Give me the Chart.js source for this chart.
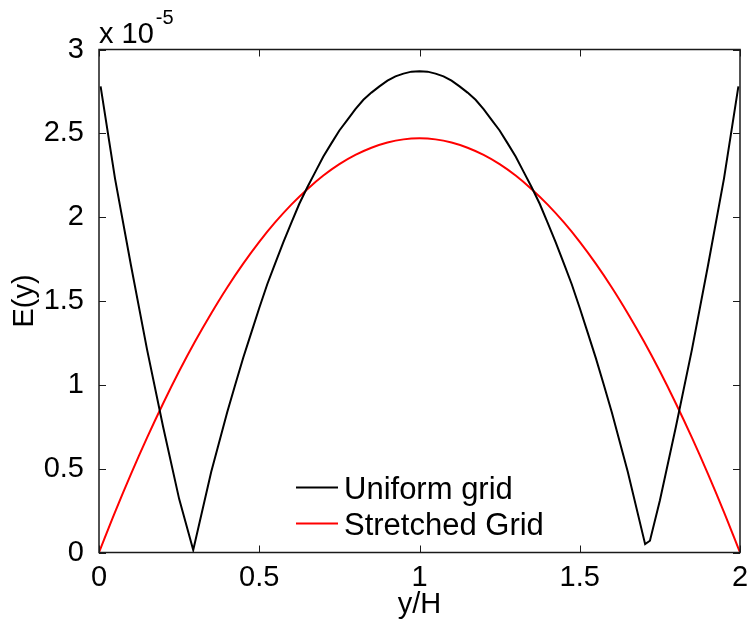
<!DOCTYPE html>
<html>
<head>
<meta charset="utf-8">
<title>E(y)</title>
<script src="https://cdn.jsdelivr.net/npm/chart.js@4/dist/chart.umd.min.js"></script>
<style>
  html, body { margin: 0; padding: 0; background: #fff; }
  #wrap { width: 747px; height: 623px; }
</style>
</head>
<body>
<div id="wrap"><canvas id="chart" width="747" height="623"></canvas></div>
<script>
// Error profile E(y), values in units of 10^-5
const uniformX = [0.005, 0.05, 0.1, 0.15, 0.2, 0.25, 0.294, 0.35,
  0.4, 0.425, 0.45, 0.475, 0.5, 0.525, 0.55, 0.575, 0.6, 0.625, 0.65, 0.675, 0.7, 0.725, 0.75, 0.775,
  0.8, 0.825, 0.85, 0.875, 0.9, 0.925, 0.95, 0.975, 1.0, 1.025, 1.05, 1.075, 1.1, 1.125, 1.15, 1.175,
  1.2, 1.225, 1.25, 1.275, 1.3, 1.325, 1.35, 1.375, 1.4, 1.425, 1.45, 1.475, 1.5, 1.525, 1.55, 1.575, 1.6,
  1.65, 1.704, 1.719, 1.75, 1.8, 1.85, 1.9, 1.95, 1.995];
const uniformE = [2.78, 2.23, 1.71, 1.21, 0.75, 0.32, 0.015, 0.48,
  0.836, 1.00, 1.161, 1.31, 1.458, 1.60, 1.726, 1.85, 1.966, 2.08, 2.178, 2.27, 2.362, 2.44, 2.517, 2.58,
  2.644, 2.70, 2.743, 2.78, 2.814, 2.84, 2.856, 2.868, 2.87, 2.868, 2.856, 2.84, 2.814, 2.78, 2.743, 2.70,
  2.644, 2.58, 2.517, 2.44, 2.362, 2.27, 2.178, 2.08, 1.966, 1.85, 1.726, 1.60, 1.458, 1.31, 1.161, 1.00, 0.836,
  0.48, 0.05, 0.07, 0.31, 0.75, 1.21, 1.71, 2.23, 2.78];

const stretchedX = [0, 0.05, 0.1, 0.15, 0.2, 0.25, 0.3, 0.35, 0.4, 0.45, 0.5, 0.55, 0.6, 0.65, 0.7, 0.75,
  0.8, 0.85, 0.9, 0.95, 1.0, 1.05, 1.1, 1.15, 1.2, 1.25, 1.3, 1.35, 1.4, 1.45, 1.5, 1.55, 1.6, 1.65, 1.7,
  1.75, 1.8, 1.85, 1.9, 1.95, 2.0];
const stretchedE = [0, 0.241, 0.469, 0.685, 0.889, 1.081, 1.260, 1.426, 1.581, 1.723, 1.853, 1.970, 2.075,
  2.167, 2.248, 2.316, 2.371, 2.414, 2.445, 2.464, 2.47, 2.464, 2.445, 2.414, 2.371, 2.316, 2.248, 2.167,
  2.075, 1.970, 1.853, 1.723, 1.581, 1.426, 1.260, 1.081, 0.889, 0.685, 0.469, 0.241, 0];

const seriesNames = ['Uniform grid', 'Stretched Grid'];
const seriesColors = ['#000000', '#ff0000'];
const xTicks = [0, 0.5, 1, 1.5, 2];
const yTicks = [0, 0.5, 1, 1.5, 2, 2.5, 3];
const yExponent = '-5';

const FONT = '"Liberation Sans", Arial, Helvetica, sans-serif';
const FS = 29;
const LEGEND_FS = 31;

const toPoints = (xs, ys) => xs.map((x, i) => ({ x: x, y: ys[i] }));

// Box around the plot with inward-pointing tick marks on all four sides
const boxPlugin = {
  id: 'box',
  afterDatasetsDraw(chart) {
    const { ctx, chartArea: a, scales } = chart;
    const tl = 7;
    ctx.save();
    ctx.strokeStyle = '#1a1a1a';
    ctx.lineWidth = 1.5;
    ctx.strokeRect(a.left, a.top, a.right - a.left, a.bottom - a.top);
    ctx.lineWidth = 1;
    ctx.beginPath();
    xTicks.forEach(v => {
      const px = Math.round(scales.x.getPixelForValue(v)) + 0.5;
      ctx.moveTo(px, a.bottom); ctx.lineTo(px, a.bottom - tl);
      ctx.moveTo(px, a.top); ctx.lineTo(px, a.top + tl);
    });
    yTicks.forEach(v => {
      const py = Math.round(scales.y.getPixelForValue(v)) + 0.5;
      ctx.moveTo(a.left, py); ctx.lineTo(a.left + tl, py);
      ctx.moveTo(a.right, py); ctx.lineTo(a.right - tl, py);
    });
    ctx.stroke();

    // exponent label above the y axis
    ctx.fillStyle = '#000';
    ctx.textBaseline = 'alphabetic';
    ctx.textAlign = 'left';
    ctx.font = FS + 'px ' + FONT;
    ctx.fillText('x 10', a.left, 43);
    const w = ctx.measureText('x 10').width;
    ctx.font = '20px ' + FONT;
    ctx.fillText(yExponent, a.left + w + 2, 24);

    // legend
    ctx.font = LEGEND_FS + 'px ' + FONT;
    const rows = [499, 535];
    chart.data.datasets.forEach((ds, i) => {
      const base = rows[i];
      ctx.strokeStyle = ds.borderColor;
      ctx.lineWidth = 2;
      ctx.beginPath();
      ctx.moveTo(296, base - 11.5);
      ctx.lineTo(338, base - 11.5);
      ctx.stroke();
      ctx.fillStyle = '#000';
      ctx.fillText(ds.label, 344, base);
    });
    ctx.restore();
  }
};

const tickText = v => String(Math.round(v * 100) / 100);

new Chart(document.getElementById('chart'), {
  type: 'line',
  data: {
    datasets: [
      { label: seriesNames[0], data: toPoints(uniformX, uniformE), borderColor: seriesColors[0],
        borderWidth: 2, pointRadius: 0, tension: 0, fill: false },
      { label: seriesNames[1], data: toPoints(stretchedX, stretchedE), borderColor: seriesColors[1],
        borderWidth: 2, pointRadius: 0, cubicInterpolationMode: 'monotone', fill: false }
    ]
  },
  options: {
    responsive: false,
    animation: false,
    devicePixelRatio: 1,
    layout: { padding: { left: 0, right: 7, top: 49.5, bottom: 0 } },
    plugins: { legend: { display: false }, tooltip: { enabled: false } },
    scales: {
      x: {
        type: 'linear', min: 0, max: 2,
        afterBuildTicks: s => { s.ticks = xTicks.map(v => ({ value: v })); },
        afterFit: s => { s.height = 70.5; s.paddingLeft = 0; s.paddingRight = 0; },
        grid: { display: false }, border: { display: false },
        ticks: { color: '#000', padding: 0, maxRotation: 0, autoSkip: false, callback: tickText,
                 font: { family: FONT, size: FS } },
        title: { display: true, text: 'y/H', color: '#000', padding: { top: 0, bottom: 1 },
                 font: { family: FONT, size: FS } }
      },
      y: {
        type: 'linear', min: 0, max: 3,
        afterBuildTicks: s => { s.ticks = yTicks.map(v => ({ value: v })); },
        afterFit: s => { s.width = 99; s.paddingTop = 0; s.paddingBottom = 0; },
        grid: { display: false }, border: { display: false },
        ticks: { color: '#000', padding: 7, autoSkip: false, callback: tickText,
                 font: { family: FONT, size: FS } },
        title: { display: true, text: 'E(y)', color: '#000', padding: { top: 8, bottom: 0 },
                 font: { family: FONT, size: FS } }
      }
    }
  },
  plugins: [boxPlugin]
});
</script>
</body>
</html>
